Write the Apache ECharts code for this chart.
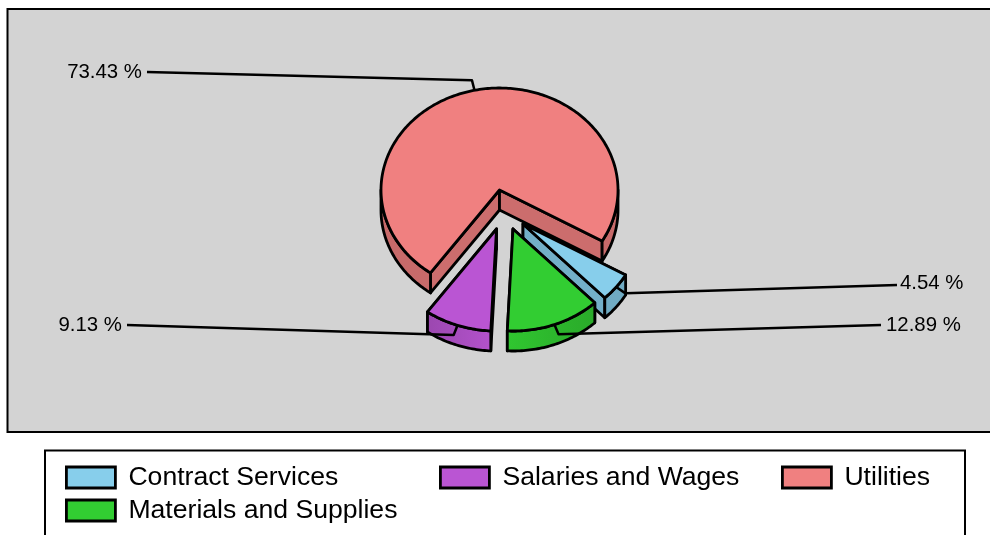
<!DOCTYPE html>
<html>
<head>
<meta charset="utf-8">
<style>html,body{margin:0;padding:0;background:#fff}#c{width:990px;height:535px}</style>
<script src="https://cdn.jsdelivr.net/npm/echarts@6/dist/echarts.min.js"></script>
</head>
<body>
<div id="c"></div>
<script>
// ---- data ----
const categories = ['Contract Services', 'Materials and Supplies', 'Salaries and Wages', 'Utilities'];
const values = [4.54, 12.89, 9.13, 73.43];
// ---- styles ----
const colors = ['#87CEEB', '#32CD32', '#BA55D3', '#F08080'];
const FONT = '"Liberation Sans", Arial, sans-serif';
const LW = 2.8;
const geom = {cx: 499.5, cy: 190, rx: 118.5, ry: 102, depth: 20, startAngle: 120};
const explode = [[23.5, 34], [13.5, 39], [-3, 39], [0, 0]];
const labelSpots = [
  {lineEnd: [897, 285], textAt: [900, 283], align: 'left'},
  {lineEnd: [881, 325], textAt: [886, 325], align: 'left'},
  {lineEnd: [127, 325], textAt: [122, 325], align: 'right'},
  {lineEnd: [147, 72], textAt: [142, 72], align: 'right'}
];
const legendSpots = [[65, 464], [65, 497], [439, 464], [781, 464]];
const drawOrder = [3, 0, 1, 2];

const total = values.reduce((a, b) => a + b, 0);
const spans = [];
let acc = geom.startAngle;
values.forEach(v => { const a = v / total * 360; spans.push([acc, acc + a]); acc += a; });

function pt(i, t, dy, scale) {
  const r = t * Math.PI / 180, s = scale === undefined ? 1 : scale;
  return [
    geom.cx + explode[i][0] + geom.rx * s * Math.sin(r),
    geom.cy + explode[i][1] - geom.ry * s * Math.cos(r) + (dy || 0)
  ];
}
function arc(i, a, b, dy) {
  const out = [], n = Math.max(2, Math.ceil(Math.abs(b - a) / 1));
  for (let k = 0; k <= n; k++) out.push(pt(i, a + (b - a) * k / n, dy));
  return out;
}
function shadeHex(hex, f) {
  const n = parseInt(hex.slice(1), 16);
  const c = [n >> 16 & 255, n >> 8 & 255, n & 255].map(x => Math.round(x * f));
  return 'rgb(' + c.join(',') + ')';
}
function shadeAt(t) {
  const d = Math.abs(((t % 360) + 360) % 360 - 180);
  return Math.max(0.83, 0.98 - 0.15 * d / 36);
}
function poly(points, fill, z2) {
  return {type: 'polygon', z2: z2, shape: {points: points},
    style: {fill: fill, stroke: '#000', lineWidth: LW, lineJoin: 'round'}};
}
function renderSlice(i, api) {
  const [a, b] = spans[i], D = geom.depth, col = colors[i], kids = [];
  const apex = pt(i, 0, 0, 0), apexB = [apex[0], apex[1] + D];
  const sideFill = shadeHex(col, 0.85);
  // flat cut faces
  [a, b].forEach(t => {
    const p = pt(i, t), q = pt(i, t, D);
    kids.push(poly([apex, p, q, apexB], sideFill, 1));
  });
  // outer curved wall: only the front half of the rim shows
  for (let base = 90; base < 900; base += 360) {
    const lo = Math.max(a, base), hi = Math.min(b, base + 180);
    if (hi <= lo) continue;
    const pts = arc(i, lo, hi, 0).concat(arc(i, hi, lo, D));
    const fill = new echarts.graphic.LinearGradient(0, 0, 1, 0, [0, 0.5, 1].map(s => {
      const t = lo + (hi - lo) * s, x = Math.sin(t * Math.PI / 180);
      return {t: t, x: x};
    }).sort((m, n) => m.x - n.x).map((o, k) => ({offset: k / 2, color: shadeHex(col, shadeAt(o.t))})));
    kids.push(poly(pts, fill, 2));
  }
  // top face
  kids.push(poly([apex].concat(arc(i, a, b, 0)), col, 3));
  // leader line and label
  const mid = (a + b) / 2, spot = labelSpots[i];
  kids.push({type: 'polyline', z2: 4,
    shape: {points: [pt(i, mid), pt(i, mid, 0, 1.1), spot.lineEnd]},
    style: {fill: null, stroke: '#000', lineWidth: LW - 0.3, lineJoin: 'round'}});
  kids.push({type: 'text', z2: 5, style: {
    text: api.value(0).toFixed(2) + ' %', x: spot.textAt[0], y: spot.textAt[1],
    align: spot.align, verticalAlign: 'middle', fill: '#000', font: '20.4px ' + FONT}});
  return {type: 'group', children: kids};
}

const series = drawOrder.map((i, k) => ({
  type: 'custom',
  name: categories[i],
  coordinateSystem: 'none',
  z: 2 + k,
  clip: false,
  silent: true,
  animation: false,
  itemStyle: {color: colors[i]},
  data: [[values[i]]],
  renderItem: (params, api) => renderSlice(i, api)
}));

const legend = categories.map((name, i) => ({
  data: [name],
  left: legendSpots[i][0],
  top: legendSpots[i][1],
  padding: 0,
  icon: 'rect',
  itemWidth: 49,
  itemHeight: 21,
  selectedMode: false,
  itemStyle: {borderColor: '#000', borderWidth: 2.8},
  textStyle: {fontFamily: FONT, fontSize: 26.6, color: '#000', padding: [0, 0, 0, 8]}
}));

const chart = echarts.init(document.getElementById('c'), null, {renderer: 'canvas'});
chart.setOption({
  backgroundColor: '#fff',
  animation: false,
  graphic: [
    {type: 'rect', z: 0, silent: true, shape: {x: 7.5, y: 9, width: 1100, height: 423},
      style: {fill: '#D3D3D3', stroke: '#000', lineWidth: 2}},
    {type: 'rect', z: 0, silent: true, shape: {x: 45, y: 450.5, width: 920, height: 200},
      style: {fill: '#fff', stroke: '#000', lineWidth: 2}}
  ],
  legend: legend,
  series: series
});
</script>
</body>
</html>
